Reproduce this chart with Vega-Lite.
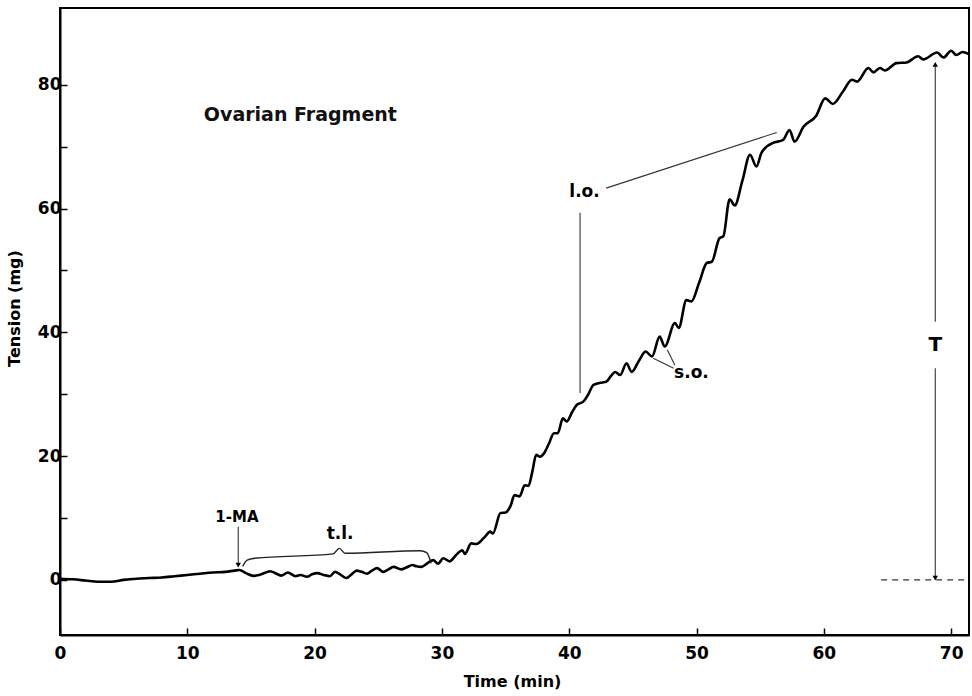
{
  "$schema": "https://vega.github.io/schema/vega-lite/v6.json",
  "width": 909,
  "height": 627,
  "autosize": {"type": "none"},
  "padding": {"left": 60, "top": 8, "right": 3, "bottom": 61},
  "background": "white",
  "config": {
    "view": {"stroke": "black", "strokeWidth": 2},
    "font": "DejaVu Sans",
    "axis": {
      "grid": false,
      "domainColor": "black",
      "domainWidth": 2,
      "tickColor": "black",
      "tickWidth": 1.5,
      "tickSize": -7,
      "labelFlush": false,
      "labelFont": "DejaVu Sans",
      "labelFontWeight": "bold",
      "labelFontSize": 17,
      "labelColor": "black",
      "titleFont": "DejaVu Sans",
      "titleFontWeight": "bold",
      "titleFontSize": 16,
      "titleColor": "black"
    }
  },
  "datasets": {
    "curve": [
      {"t": 0, "v": 0.2}, {"t": 1, "v": 0.1}, {"t": 2, "v": -0.1}, {"t": 3, "v": -0.3}, {"t": 4, "v": -0.3},
      {"t": 5, "v": 0.0}, {"t": 6, "v": 0.2}, {"t": 7, "v": 0.3}, {"t": 8, "v": 0.4}, {"t": 9, "v": 0.6},
      {"t": 10, "v": 0.8}, {"t": 11, "v": 1.0}, {"t": 12, "v": 1.2}, {"t": 13, "v": 1.3}, {"t": 13.7, "v": 1.5},
      {"t": 14.1, "v": 1.6}, {"t": 14.6, "v": 1.1}, {"t": 15.2, "v": 0.65}, {"t": 15.8, "v": 0.9}, {"t": 16.5, "v": 1.4},
      {"t": 17.0, "v": 1.0}, {"t": 17.4, "v": 0.7}, {"t": 17.9, "v": 1.2}, {"t": 18.5, "v": 0.6}, {"t": 18.9, "v": 0.8},
      {"t": 19.4, "v": 0.5}, {"t": 19.8, "v": 0.9}, {"t": 20.2, "v": 1.1}, {"t": 20.7, "v": 0.8}, {"t": 21.2, "v": 0.6},
      {"t": 21.6, "v": 1.3}, {"t": 22.0, "v": 0.9}, {"t": 22.5, "v": 0.3}, {"t": 22.9, "v": 0.9}, {"t": 23.3, "v": 1.5},
      {"t": 23.7, "v": 1.3}, {"t": 24.1, "v": 1.0}, {"t": 24.5, "v": 1.5}, {"t": 24.9, "v": 1.9}, {"t": 25.4, "v": 1.3},
      {"t": 25.8, "v": 1.7}, {"t": 26.2, "v": 2.1}, {"t": 26.8, "v": 1.7}, {"t": 27.2, "v": 2.0}, {"t": 27.7, "v": 2.4},
      {"t": 28.0, "v": 2.2}, {"t": 28.4, "v": 2.1}, {"t": 28.8, "v": 2.6}, {"t": 29.3, "v": 3.2}, {"t": 29.7, "v": 2.6},
      {"t": 30.1, "v": 3.5}, {"t": 30.6, "v": 3.0}, {"t": 31.1, "v": 4.0}, {"t": 31.6, "v": 4.8}, {"t": 31.8, "v": 4.2},
      {"t": 32.3, "v": 5.9}, {"t": 32.7, "v": 5.8}, {"t": 33.3, "v": 6.8}, {"t": 33.8, "v": 7.8}, {"t": 34.0, "v": 7.5},
      {"t": 34.6, "v": 10.8}, {"t": 35.0, "v": 10.9}, {"t": 35.4, "v": 12.0}, {"t": 35.7, "v": 13.7}, {"t": 36.1, "v": 13.5},
      {"t": 36.5, "v": 15.3}, {"t": 36.8, "v": 15.2}, {"t": 37.1, "v": 17.5}, {"t": 37.4, "v": 20.2}, {"t": 37.7, "v": 19.9}, {"t": 38.0, "v": 20.4},
      {"t": 38.4, "v": 22.0}, {"t": 38.8, "v": 23.7}, {"t": 39.1, "v": 23.7}, {"t": 39.5, "v": 26.1}, {"t": 39.8, "v": 25.6},
      {"t": 40.2, "v": 27.0}, {"t": 40.6, "v": 28.3}, {"t": 41.1, "v": 28.8}, {"t": 41.5, "v": 30.0}, {"t": 41.9, "v": 31.5},
      {"t": 42.6, "v": 31.9}, {"t": 42.9, "v": 32.0}, {"t": 43.3, "v": 33.0}, {"t": 43.6, "v": 33.6}, {"t": 44.0, "v": 33.1},
      {"t": 44.5, "v": 35.0}, {"t": 44.9, "v": 33.6}, {"t": 45.5, "v": 35.5}, {"t": 46.0, "v": 36.9}, {"t": 46.5, "v": 36.1},
      {"t": 47.1, "v": 39.3}, {"t": 47.5, "v": 37.7}, {"t": 48.3, "v": 41.5}, {"t": 48.6, "v": 40.7}, {"t": 49.2, "v": 45.2},
      {"t": 49.6, "v": 45.0}, {"t": 50.2, "v": 48.0}, {"t": 50.8, "v": 51.2}, {"t": 51.2, "v": 51.4}, {"t": 51.8, "v": 55.2},
      {"t": 52.1, "v": 55.5}, {"t": 52.6, "v": 61.5}, {"t": 53.0, "v": 60.5}, {"t": 53.6, "v": 64.5}, {"t": 54.2, "v": 68.7},
      {"t": 54.7, "v": 66.8}, {"t": 55.1, "v": 69.0}, {"t": 55.5, "v": 70.0}, {"t": 56.0, "v": 70.6}, {"t": 56.8, "v": 71.1},
      {"t": 57.3, "v": 72.7}, {"t": 57.7, "v": 70.8}, {"t": 58.4, "v": 73.2}, {"t": 59.4, "v": 75.0}, {"t": 60.1, "v": 77.8},
      {"t": 60.7, "v": 76.9}, {"t": 61.5, "v": 78.9}, {"t": 62.2, "v": 80.8}, {"t": 62.6, "v": 80.5}, {"t": 63.5, "v": 82.7},
      {"t": 63.9, "v": 82.0}, {"t": 64.4, "v": 82.7}, {"t": 64.8, "v": 82.3}, {"t": 65.7, "v": 83.5}, {"t": 66.5, "v": 83.6},
      {"t": 67.4, "v": 84.6}, {"t": 67.8, "v": 84.1}, {"t": 68.9, "v": 85.2}, {"t": 69.4, "v": 84.4}, {"t": 70.0, "v": 85.5},
      {"t": 70.4, "v": 84.8}, {"t": 70.9, "v": 85.3}, {"t": 71.35, "v": 85.0}
    ],
    "brace": [
      {"t": 14.35, "v": 2.2}, {"t": 14.7, "v": 3.2}, {"t": 15.3, "v": 3.5}, {"t": 21.45, "v": 4.2},
      {"t": 21.94, "v": 5.1}, {"t": 22.4, "v": 4.3}, {"t": 28.3, "v": 4.7}, {"t": 28.8, "v": 4.4}, {"t": 29.15, "v": 2.7}
    ],
    "segments": [
      {"name": "1-MA arrow", "t": 14.0, "v": 8.6, "t2": 14.0, "v2": 2.6},
      {"name": "l.o. slant", "t": 42.9, "v": 63.3, "t2": 56.3, "v2": 72.3},
      {"name": "l.o. vertical", "t": 40.85, "v": 59.3, "t2": 40.85, "v2": 30.2},
      {"name": "s.o. a", "t": 48.2, "v": 34.2, "t2": 46.6, "v2": 35.8},
      {"name": "s.o. b", "t": 48.3, "v": 34.7, "t2": 47.7, "v2": 37.2},
      {"name": "T upper", "t": 68.75, "v": 83.0, "t2": 68.75, "v2": 41.7},
      {"name": "T lower", "t": 68.75, "v": 34.2, "t2": 68.75, "v2": 0.5}
    ],
    "baseline": [
      {"t": 64.5, "v": 0, "t2": 71.1, "v2": 0}
    ],
    "arrows": [
      {"t": 14.0, "v": 2.4, "dir": "down"},
      {"t": 68.75, "v": 83.3, "dir": "up"},
      {"t": 68.75, "v": 0.3, "dir": "down"}
    ],
    "labels": [
      {"label": "Ovarian Fragment", "t": 11.3, "v": 75.1},
      {"label": "1-MA", "t": 13.9, "v": 10.1},
      {"label": "t.l.", "t": 22.0, "v": 7.4},
      {"label": "l.o.", "t": 41.2, "v": 62.7},
      {"label": "s.o.", "t": 49.6, "v": 33.5},
      {"label": "T", "t": 68.75, "v": 38.0}
    ]
  },
  "encoding": {
    "x": {"field": "t", "type": "quantitative",
      "scale": {"domain": [0, 71.4], "nice": false, "zero": false},
      "axis": {"title": "Time (min)", "values": [0, 10, 20, 30, 40, 50, 60, 70], "labelPadding": 17, "titleX": 452, "titleY": 46, "titleBaseline": "middle"}},
    "y": {"field": "v", "type": "quantitative",
      "scale": {"domain": [-8.9, 92.4], "nice": false, "zero": false},
      "axis": {"title": "Tension (mg)", "values": [0, 10, 20, 30, 40, 50, 60, 70, 80], "labelExpr": "datum.value % 20 === 0 ? datum.label : ''", "labelPadding": 6, "titleX": -46, "titleY": 300, "titleBaseline": "middle", "titleAlign": "center", "titleAngle": -90}}
  },
  "layer": [
    {
      "data": {"name": "curve"},
      "mark": {"type": "line", "color": "black", "strokeWidth": 2.6, "interpolate": "monotone"}
    },
    {
      "data": {"name": "brace"},
      "mark": {"type": "line", "color": "#222", "strokeWidth": 1.4, "interpolate": "monotone"}
    },
    {
      "data": {"name": "segments"},
      "mark": {"type": "rule", "color": "#333", "strokeWidth": 1.1},
      "encoding": {"x2": {"field": "t2"}, "y2": {"field": "v2"}}
    },
    {
      "data": {"name": "baseline"},
      "mark": {"type": "rule", "color": "#333", "strokeWidth": 1.1, "strokeDash": [6, 5]},
      "encoding": {"x2": {"field": "t2"}, "y2": {"field": "v2"}}
    },
    {
      "data": {"name": "arrows"},
      "mark": {"type": "point", "filled": true, "color": "black", "size": 30, "opacity": 1},
      "encoding": {"shape": {"field": "dir", "type": "nominal", "scale": {"domain": ["up", "down"], "range": ["triangle-up", "triangle-down"]}, "legend": null}}
    },
    {
      "data": {"name": "labels"},
      "transform": [{"filter": "datum.label === 'Ovarian Fragment'"}],
      "mark": {"type": "text", "align": "left", "baseline": "middle", "fontSize": 19, "fontWeight": "bold", "font": "DejaVu Sans", "color": "#111"},
      "encoding": {"text": {"field": "label"}}
    },
    {
      "data": {"name": "labels"},
      "transform": [{"filter": "datum.label === '1-MA'"}],
      "mark": {"type": "text", "align": "center", "baseline": "middle", "fontSize": 15, "fontWeight": "bold", "font": "DejaVu Sans", "color": "black"},
      "encoding": {"text": {"field": "label"}}
    },
    {
      "data": {"name": "labels"},
      "transform": [{"filter": "datum.label === 't.l.' || datum.label === 'l.o.' || datum.label === 's.o.'"}],
      "mark": {"type": "text", "align": "center", "baseline": "middle", "fontSize": 17, "fontWeight": "bold", "font": "DejaVu Sans", "color": "black"},
      "encoding": {"text": {"field": "label"}}
    },
    {
      "data": {"name": "labels"},
      "transform": [{"filter": "datum.label === 'T'"}],
      "mark": {"type": "text", "align": "center", "baseline": "middle", "fontSize": 20, "fontWeight": "bold", "font": "DejaVu Sans", "color": "black"},
      "encoding": {"text": {"field": "label"}}
    }
  ]
}
